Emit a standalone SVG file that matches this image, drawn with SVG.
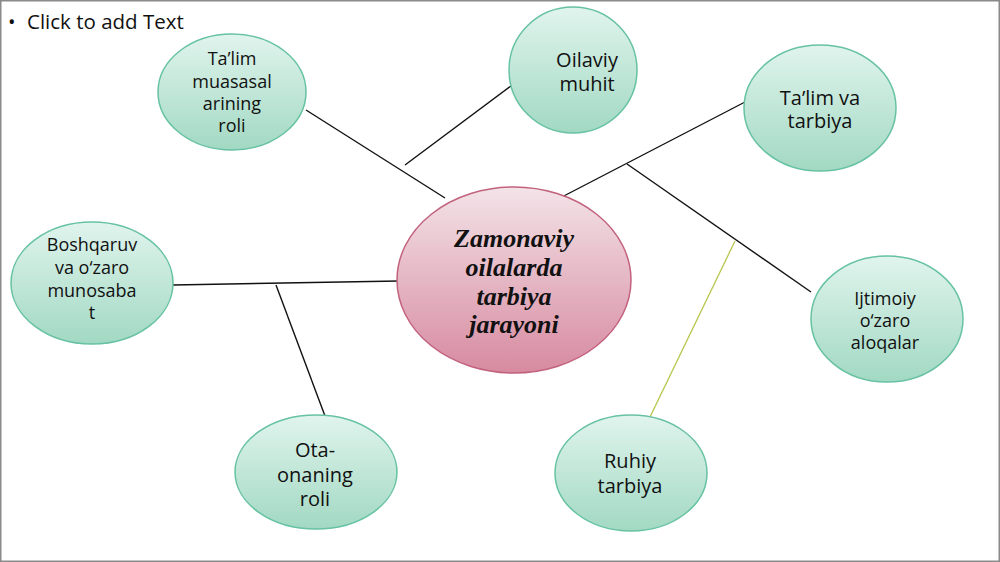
<svg xmlns="http://www.w3.org/2000/svg" width="1000" height="562" viewBox="0 0 1000 562">
<defs>
<linearGradient id="gG" x1="0" y1="0" x2="0" y2="1">
<stop offset="0" stop-color="#e0f4ed"/>
<stop offset="1" stop-color="#a2d9c3"/>
</linearGradient>
<linearGradient id="gP" x1="0" y1="0" x2="0" y2="1">
<stop offset="0" stop-color="#f3e3e8"/>
<stop offset="1" stop-color="#d78aa0"/>
</linearGradient>
</defs>
<style>
.g{fill:url(#gG);stroke:#66c2a2;stroke-width:1.5}
.p{fill:url(#gP);stroke:#c2627d;stroke-width:1.5}
.t{font-family:"Open Sans","Noto Sans","DejaVu Sans",sans-serif;fill:#111;text-anchor:middle}
.c{font-family:"Liberation Serif","Times New Roman",serif;font-weight:bold;font-style:italic;font-size:26px;fill:#111;text-anchor:middle}
.l{stroke:#111;stroke-width:1.4;fill:none}
</style>
<rect x="0" y="0" width="1000" height="562" fill="#fff"/>
<rect x="0.75" y="0.75" width="998.5" height="560.5" fill="none" stroke="#8a8a8a" stroke-width="1.5"/>
<g id="title">
<text x="8" y="29" class="t" style="text-anchor:start;font-size:20px">•</text>
<text x="27" y="29" class="t" style="text-anchor:start;font-size:20.5px">Click to add Text</text>
</g>
<g id="connectors">
<line class="l" x1="306" y1="110" x2="445" y2="198"/>
<line class="l" x1="405" y1="165" x2="511" y2="86"/>
<line class="l" x1="558" y1="199" x2="745" y2="102"/>
<line class="l" x1="627" y1="164" x2="811" y2="292"/>
<line x1="735" y1="241" x2="650" y2="417" stroke="#b8c64c" stroke-width="1.3"/>
<line class="l" x1="173" y1="285" x2="399" y2="281"/>
<line class="l" x1="276" y1="285" x2="325" y2="416"/>
</g>
<g id="n-talim-muassasa">
<ellipse class="g" cx="232" cy="92" rx="74" ry="58"/>
<text class="t" style="font-size:18px"><tspan x="232" y="65">Ta’lim</tspan><tspan x="232" y="88">muasasal</tspan><tspan x="232" y="110">arining</tspan><tspan x="232" y="132">roli</tspan></text>
</g>
<g id="n-oilaviy">
<ellipse class="g" cx="573" cy="70" rx="64" ry="63"/>
<text class="t" style="font-size:20px"><tspan x="587" y="67">Oilaviy</tspan><tspan x="587" y="91">muhit</tspan></text>
</g>
<g id="n-talim-tarbiya">
<ellipse class="g" cx="820" cy="108" rx="76" ry="63"/>
<text class="t" style="font-size:20px"><tspan x="820" y="105">Ta’lim va</tspan><tspan x="820" y="128">tarbiya</tspan></text>
</g>
<g id="n-boshqaruv">
<ellipse class="g" cx="92" cy="283" rx="81" ry="61"/>
<text class="t" style="font-size:18px"><tspan x="92" y="251">Boshqaruv</tspan><tspan x="92" y="274">va o‘zaro</tspan><tspan x="92" y="297">munosaba</tspan><tspan x="92" y="319">t</tspan></text>
</g>
<g id="n-ijtimoiy">
<ellipse class="g" cx="887" cy="319" rx="76" ry="63"/>
<text class="t" style="font-size:18px"><tspan x="885" y="305">Ijtimoiy</tspan><tspan x="885" y="327">o‘zaro</tspan><tspan x="885" y="349">aloqalar</tspan></text>
</g>
<g id="n-ota-ona">
<ellipse class="g" cx="316" cy="472" rx="81" ry="57"/>
<text class="t" style="font-size:20px"><tspan x="315" y="457">Ota-</tspan><tspan x="315" y="482">onaning</tspan><tspan x="315" y="506">roli</tspan></text>
</g>
<g id="n-ruhiy">
<ellipse class="g" cx="631" cy="473" rx="76" ry="58"/>
<text class="t" style="font-size:20px"><tspan x="630" y="468">Ruhiy</tspan><tspan x="630" y="493">tarbiya</tspan></text>
</g>
<g id="n-center">
<ellipse class="p" cx="514" cy="280" rx="117" ry="93"/>
<text class="c"><tspan x="514" y="247">Zamonaviy</tspan><tspan x="514" y="276">oilalarda</tspan><tspan x="514" y="305">tarbiya</tspan><tspan x="514" y="333">jarayoni</tspan></text>
</g>
</svg>
